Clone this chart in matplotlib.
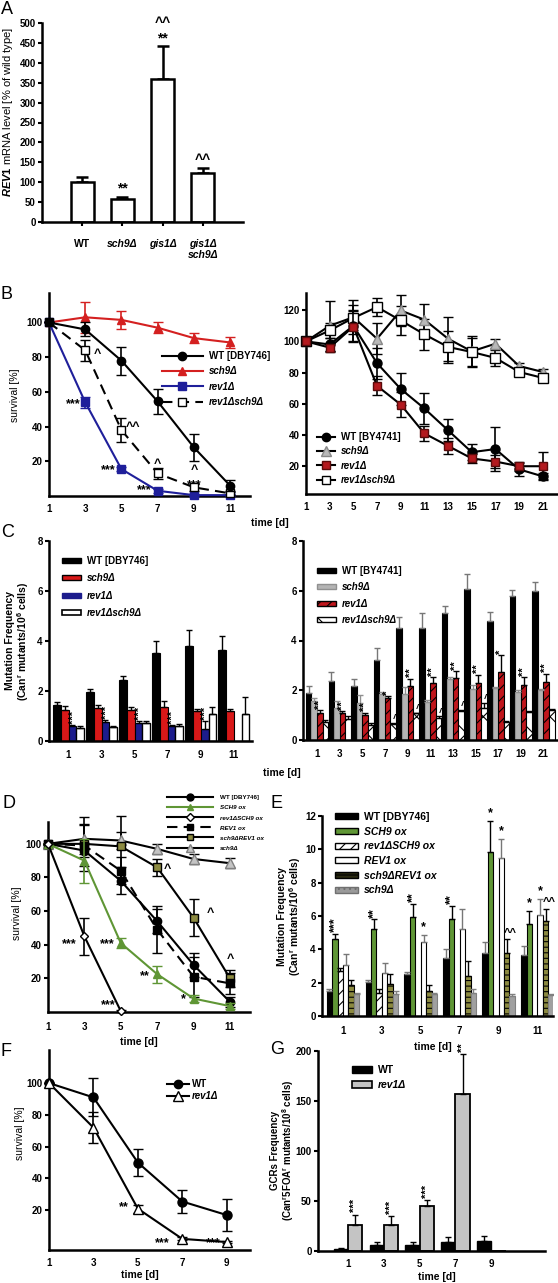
import numpy as np
import matplotlib
matplotlib.use("Agg")
import matplotlib.pyplot as plt
from matplotlib.lines import Line2D
from matplotlib.patches import Patch

plt.rcParams['font.family'] = ['Liberation Sans', 'DejaVu Sans']
plt.rcParams['font.weight'] = 'bold'
plt.rcParams['mathtext.fontset'] = 'custom'
plt.rcParams['mathtext.rm'] = 'Liberation Sans:bold'
plt.rcParams['mathtext.bf'] = 'Liberation Sans:bold'
plt.rcParams['mathtext.it'] = 'Liberation Sans:italic'
plt.rcParams['mathtext.default'] = 'bf'
plt.rcParams['hatch.linewidth'] = 0.8

# ---------------- data ----------------
# A
genotypes_A = ['WT', 'sch9Δ', 'gis1Δ', 'gis1Δ\nsch9Δ']
rev1_mrna = [100, 58, 360, 122]
rev1_mrna_err = [13, 4, 83, 13]

# B left
days_B = [1, 3, 5, 7, 9, 11]
bL_wt = [100, 96, 78, 54.5, 28, 6]
bL_wt_err = [0, 4, 8, 7, 8, 3]
bL_sch9 = [100, 103, 101.5, 97, 91, 88.5]
bL_sch9_err = [0, 9, 5, 3, 3, 3]
bL_rev1 = [100, 54, 15.5, 3, 0.5, 0.5]
bL_rev1_err = [0, 3, 1, 1, 0.5, 0.5]
bL_rs = [100, 84, 38, 13, 5, 1.5]
bL_rs_err = [0, 6, 7, 3, 2, 1]

# B right
days_BR = [1, 3, 5, 7, 9, 11, 13, 15, 17, 19, 21]
bR_wt = [100, 98, 110, 86, 69.5, 57, 43, 29, 31, 18, 13.5]
bR_wt_err = [0, 4, 10, 10, 10, 10, 7, 5, 14, 4, 2]
bR_sch9 = [100, 110, 115.5, 101.7, 119.8, 113.9, 101.7, 93.6, 98.5, 84.2, 80.4]
bR_sch9_err = [0, 16, 11, 10, 10, 10, 14, 10, 3, 2, 2]
bR_rev1 = [100, 96, 109.5, 71.5, 59.5, 41, 33, 25, 23, 20, 20]
bR_rev1_err = [0, 3, 10, 6, 8, 5, 5, 3, 4, 3, 9]
bR_rs = [100, 107, 115, 122, 113.4, 104.5, 96.4, 93.2, 89.4, 80.4, 76.6]
bR_rs_err = [0, 5, 8, 6, 9, 10, 10, 9, 5, 2, 2]

# C left
days_C = [1, 3, 5, 7, 9, 11]
cL_wt = [1.45, 1.97, 2.44, 3.53, 3.8, 3.64]
cL_wt_err = [0.13, 0.1, 0.16, 0.47, 0.64, 0.56]
cL_sch9 = [1.24, 1.32, 1.24, 1.35, 1.2, 1.2]
cL_sch9_err = [0.16, 0.13, 0.13, 0.25, 0.1, 0.07]
cL_rev1 = [0.6, 0.75, 0.72, 0.6, 0.5, np.nan]
cL_rev1_err = [0.05, 0.08, 0.08, 0.05, 0.3, 0]
cL_rs = [0.53, 0.57, 0.72, 0.6, 1.08, 1.08]
cL_rs_err = [0.08, 0.05, 0.08, 0.08, 0.27, 0.67]

# C right
days_CR = [1, 3, 5, 7, 9, 11, 13, 15, 17, 19, 21]
cR_wt = [1.89, 2.37, 2.16, 3.2, 4.5, 4.5, 5.1, 6.07, 4.8, 5.77, 5.97]
cR_wt_err = [0.3, 0.36, 0.28, 0.49, 0.43, 0.6, 0.27, 0.62, 0.33, 0.28, 0.4]
cR_sch9 = [1.57, 1.29, 1.5, 1.85, 1.85, 1.53, 2.45, 2.07, 2.1, 1.93, 2.0]
cR_sch9_err = [0.13, 0.26, 0.3, 0.07, 0.3, 0.07, 0.1, 0.13, 0.05, 0.07, 0.05]
cR_rev1 = [1.07, 1.1, 1.0, 1.67, 2.16, 2.3, 2.5, 2.3, 2.73, 2.23, 2.33]
cR_rev1_err = [0.13, 0.05, 0.1, 0.1, 0.31, 0.23, 0.27, 0.33, 0.67, 0.3, 0.34]
cR_rs = [0.73, 0.83, 0.6, 0.63, 1.07, 0.9, 1.17, 1.27, 0.73, 1.13, 1.2]
cR_rs_err = [0.07, 0.12, 0.1, 0.07, 0.03, 0.05, 0.03, 0.23, 0.03, 0.03, 0.03]
cR_rev1_stars = ['**', '**', '**', '*', '**', '**', '**', '**', '*', '**', '**']
cR_rs_hats = ['', '', '', '^', '^', '^', '^', '^', '', '', '']

# D
days_D = [1, 3, 5, 7, 9, 11]
d_wt = [100, 96, 78, 54, 28, 6]
d_wt_err = [0, 4, 8, 7, 7, 3]
d_sch9ox = [100, 90, 41, 22.5, 8, 3.5]
d_sch9ox_err = [0, 13, 3, 5, 2, 2]
days_D_short = [1, 3, 5]
d_rev1sch9ox = [100, 45, 0.5]
d_rev1sch9ox_err = [0, 11, 0.5]
d_rev1ox = [100, 99, 84, 49, 21, 17]
d_rev1ox_err = [0, 12, 8, 14, 12, 6]
d_sch9rev1ox = [100, 100, 98.5, 86, 56, 20]
d_sch9rev1ox_err = [0, 16, 18, 5, 11, 5]
d_sch9 = [100, 103, 102, 97, 91, 88.5]
d_sch9_err = [0, 9, 5, 3, 3, 3]

# E
days_E = [1, 3, 5, 7, 9, 11]
e_wt = [1.5, 2.05, 2.5, 3.5, 3.8, 3.65]
e_wt_err = [0.15, 0.1, 0.12, 0.55, 0.65, 0.55]
e_sch9ox = [4.6, 5.2, 5.95, 5.85, 9.85, 5.55]
e_sch9ox_err = [0.35, 0.6, 0.8, 0.75, 1.85, 0.75]
e_rev1sch9ox = [2.7, 1.4, np.nan, np.nan, np.nan, np.nan]
e_rev1sch9ox_err = [0.2, 0.2, 0, 0, 0, 0]
e_rev1ox = [3.05, 2.6, 4.45, 5.2, 9.5, 6.05]
e_rev1ox_err = [0.7, 0.6, 0.4, 1.2, 1.15, 0.95]
e_sch9rev1ox = [1.85, 1.95, 1.5, 2.4, 3.8, 5.7]
e_sch9rev1ox_err = [0.3, 0.6, 0.35, 0.9, 0.8, 0.75]
e_sch9 = [1.3, 1.35, 1.3, 1.4, 1.2, 1.25]
e_sch9_err = [0.1, 0.15, 0.1, 0.2, 0.1, 0.05]

# F
days_F = [1, 3, 5, 7, 9]
f_wt = [100, 91, 50, 25.5, 17]
f_wt_err = [0, 12, 8.5, 7, 10]
f_rev1 = [100, 72, 21, 2, 0]
f_rev1_err = [0, 10, 2.5, 1, 0.5]

# G
days_G = [1, 3, 5, 7, 9]
g_wt = [2, 6, 6.5, 9.5, 10]
g_wt_err = [1, 3, 2.5, 4.5, 5]
g_rev1 = [26.5, 26.5, 45.5, 157, np.nan]
g_rev1_err = [10, 8.5, 5.5, 40, 0]
g_stars = ['***', '***', '***', '**', '']

# ---------------- figure ----------------
W, H = 558, 1283
fig = plt.figure(figsize=(W / 100, H / 100), dpi=100)


def add_ax(x0, x1, ytop, ybot):
    return fig.add_axes([x0 / W, 1 - ybot / H, (x1 - x0) / W, (ybot - ytop) / H])


def style(ax, xpad=5.5):
    for s in ('top', 'right'):
        ax.spines[s].set_visible(False)
    for s in ('left', 'bottom'):
        ax.spines[s].set_linewidth(1.8)
    ax.tick_params(axis='y', direction='out', length=3, width=1.5, labelsize=7, pad=1.5)
    ax.tick_params(axis='x', length=0, labelsize=7, pad=xpad)


def ftext(px, py, s, **kw):
    fig.text(px / W, 1 - py / H, s, **kw)


def line(ax, x, y, e, color='black', marker='o', mfc=None, mec=None, ls='-',
         ms=6, ecolor=None, z=3):
    ax.errorbar(x, y, yerr=e, color=color, ls=ls, lw=1.5, marker=marker, ms=ms,
                mfc=mfc if mfc else color, mec=mec if mec else color, mew=1,
                ecolor=ecolor if ecolor else color, elinewidth=1.2, capsize=3.5,
                capthick=1.2, zorder=z, clip_on=False)


def bars(ax, x, vals, errs, off, w, fc, ec='black', hatch=None, ecol='black', lw=0.8):
    xs = np.array(x, float) + off
    v = np.array(vals, float)
    ax.bar(xs, np.nan_to_num(v), w, color=fc, edgecolor=ec, hatch=hatch, lw=lw, zorder=2)
    m = ~np.isnan(v)
    ax.errorbar(xs[m], v[m], yerr=[np.zeros(m.sum()), np.array(errs, float)[m]],
                fmt='none', ecolor=ecol, elinewidth=1, capsize=2.5, capthick=1, zorder=3)
    return xs


def panel_letter(px, py, s):
    ftext(px, py, s, fontsize=13, fontweight='normal', ha='left', va='center')


def legend(ax, handles, labels, px, py, fs=7, hl=2.5, ls=0.35, italic=(), hh=0.7, tp=0.6):
    leg = ax.legend(handles, labels, loc='upper left', bbox_to_anchor=(px / W, 1 - py / H),
                    bbox_transform=fig.transFigure, frameon=False, fontsize=fs,
                    handlelength=hl, labelspacing=ls, borderpad=0, borderaxespad=0,
                    handletextpad=tp, handleheight=hh)
    for i, t in enumerate(leg.get_texts()):
        if i in italic:
            t.set_fontstyle('italic')
    return leg


# ---------- A ----------
ax = add_ax(42, 243, 23, 222)
style(ax)
xa = np.arange(len(genotypes_A))
ax.bar(xa, rev1_mrna, 0.58, color='white', edgecolor='black', lw=1.8, zorder=2)
ax.errorbar(xa, rev1_mrna, yerr=[np.zeros(4), rev1_mrna_err], fmt='none', ecolor='black',
            elinewidth=1.8, capsize=4, capthick=1.8, zorder=1)
ax.set_xlim(-1, 4)
ax.set_ylim(0, 500)
ax.set_yticks(np.arange(0, 501, 50))
ax.set_xticks(xa)
ax.set_xticklabels(genotypes_A)
ax.tick_params(axis='x', length=3, width=1.5, direction='out', pad=9, labelsize=7.5)
for i, t in enumerate(ax.get_xticklabels()):
    if i > 0:
        t.set_fontstyle('italic')
ax.text(1, 66, '**', ha='center', va='bottom', fontsize=10)
ax.text(2, 443, '**', ha='center', va='bottom', fontsize=10)
ax.text(2, 482, '^^', ha='center', va='bottom', fontsize=10)
ax.text(3, 138, '^^', ha='center', va='bottom', fontsize=10)
ftext(8, 112, r'$\mathit{REV1}$ mRNA level [% of wild type]', rotation=90, fontsize=8,
      fontweight='normal', ha='center', va='center')
panel_letter(1, 10, 'A')

# ---------- B left ----------
ax = add_ax(49, 250, 293, 496)
style(ax, xpad=6)
line(ax, days_B, bL_sch9, bL_sch9_err, color='#d42020', marker='^', ms=6)
line(ax, days_B, bL_rev1, bL_rev1_err, color='#1f1f9a', marker='s', ms=5.5)
line(ax, days_B, bL_rs, bL_rs_err, color='black', marker='s', mfc='white', ls=(0, (5, 3)), ms=6)
line(ax, days_B, bL_wt, bL_wt_err, color='black', marker='o', ms=6, z=4)
ax.set_xlim(1, 12.1)
ax.set_ylim(0, 117)
ax.set_yticks([20, 40, 60, 80, 100])
ax.set_xticks(days_B)
ax.text(3.45, 82, '^', fontsize=9, ha='left', va='center')
ax.text(2.75, 53, '***', fontsize=9, ha='right', va='center')
ax.text(5.25, 40, '^^', fontsize=9, ha='left', va='center')
ax.text(4.65, 15, '***', fontsize=9, ha='right', va='center')
ax.text(7, 18.5, '^', fontsize=9, ha='center', va='center')
ax.text(6.65, 3.5, '***', fontsize=9, ha='right', va='center')
ax.text(9, 15, '^', fontsize=9, ha='center', va='center')
ax.text(9, 6.5, '***', fontsize=9, ha='center', va='center')
hB = [Line2D([], [], color='black', marker='o', ms=6, lw=1.5),
      Line2D([], [], color='#d42020', marker='^', ms=6, lw=1.5),
      Line2D([], [], color='#1f1f9a', marker='s', ms=5.5, lw=1.5),
      Line2D([], [], color='black', marker='s', mfc='white', ms=6, lw=1.5, ls=(0, (5, 3)))]
legend(ax, hB, ['WT [DBY746]', 'sch9Δ', 'rev1Δ', 'rev1Δsch9Δ'], 162, 351, fs=7, hl=4.2,
       ls=0.55, italic=(1, 2, 3))
ftext(15, 395, 'survival [%]', rotation=90, fontsize=7.5, fontweight='normal', ha='center', va='center')
panel_letter(1, 294, 'B')

# ---------- B right ----------
ax = add_ax(306, 557, 293, 494)
style(ax, xpad=6)
line(ax, days_BR, bR_sch9, bR_sch9_err, color='black', marker='^', mfc='#b8b8b8', mec='#888888', ms=6.5)
line(ax, days_BR, bR_rs, bR_rs_err, color='black', marker='s', mfc='white', ms=6.5)
line(ax, days_BR, bR_wt, bR_wt_err, color='black', marker='o', ms=6.5)
line(ax, days_BR, bR_rev1, bR_rev1_err, color='black', marker='s', mfc='#b3191e', mec='#5a0a0a', ms=5.5, z=4)
ax.set_xlim(1, 22.2)
ax.set_ylim(2.2, 131)
ax.set_yticks([20, 40, 60, 80, 100, 120])
ax.set_xticks(days_BR)
hBR = [Line2D([], [], color='black', marker='o', ms=6, lw=1.5),
       Line2D([], [], color='black', marker='^', mfc='#b8b8b8', mec='#888888', ms=6.5, lw=1.5),
       Line2D([], [], color='black', marker='s', mfc='#b3191e', mec='#5a0a0a', ms=5.5, lw=1.5),
       Line2D([], [], color='black', marker='s', mfc='white', ms=6, lw=1.5)]
legend(ax, hBR, ['WT [BY4741]', 'sch9Δ', 'rev1Δ', 'rev1Δsch9Δ'], 317, 432, fs=7, hl=1.9,
       ls=0.45, italic=(1, 2, 3))
ftext(270, 523, 'time [d]', fontsize=7.5, ha='center', va='center')

# ---------- C left ----------
ax = add_ax(49, 252, 541, 741)
style(ax, xpad=6.5)
wC = 0.47
bars(ax, days_C, cL_wt, cL_wt_err, -1.5 * wC, wC, 'black')
bars(ax, days_C, cL_sch9, cL_sch9_err, -0.5 * wC, wC, '#d81818')
xr = bars(ax, days_C, cL_rev1, cL_rev1_err, 0.5 * wC, wC, '#1c1c8c')
bars(ax, days_C, cL_rs, cL_rs_err, 1.5 * wC, wC, 'white', lw=1)
for i in range(5):
    ax.text(xr[i] + 0.1, cL_rev1[i] + cL_rev1_err[i] + 0.05, '***', rotation=90,
            ha='center', va='bottom', fontsize=8)
ax.set_xlim(-0.18, 12.1)
ax.set_ylim(0, 8)
ax.set_yticks([0, 2, 4, 6, 8])
ax.set_xticks(days_C)
hC = [Patch(fc='black', ec='black'), Patch(fc='#d81818', ec='black'),
      Patch(fc='#1c1c8c', ec='#1c1c8c'), Patch(fc='white', ec='black', lw=1.2)]
legend(ax, hC, ['WT [DBY746]', 'sch9Δ', 'rev1Δ', 'rev1Δsch9Δ'], 62, 556, fs=7, hl=2.0,
       hh=0.45, ls=0.75, italic=(1, 2, 3))
ftext(18, 641, 'Mutation Frequency\n(Can$^{r}$ mutants/10$^{6}$ cells)', rotation=90, fontsize=7.5,
      ha='center', va='center', linespacing=1.1)
panel_letter(1, 533, 'C')

# ---------- C right ----------
ax = add_ax(303, 557, 541, 740)
style(ax, xpad=6.5)
wR = 0.49
bars(ax, days_CR, cR_wt, cR_wt_err, -1.5 * wR, wR, 'black', ecol='#777777')
bars(ax, days_CR, cR_sch9, cR_sch9_err, -0.5 * wR, wR, '#b4b4b4', ec='#909090', ecol='#909090')
xr = bars(ax, days_CR, cR_rev1, cR_rev1_err, 0.5 * wR, wR, '#c0161c', hatch='///')
xw = bars(ax, days_CR, cR_rs, cR_rs_err, 1.5 * wR, wR, 'white', hatch='x')
for i in range(len(days_CR)):
    ax.text(xr[i], cR_rev1[i] + cR_rev1_err[i] + 0.05, cR_rev1_stars[i], rotation=90,
            ha='center', va='bottom', fontsize=8)
    if cR_rs_hats[i]:
        ax.text(xw[i] + 0.25, cR_rs[i] + cR_rs_err[i] + 0.15, cR_rs_hats[i],
                ha='center', va='center', fontsize=7)
ax.set_xlim(-0.24, 22.2)
ax.set_ylim(0, 8)
ax.set_yticks([0, 2, 4, 6, 8])
ax.set_xticks(days_CR)
hCR = [Patch(fc='black', ec='black'), Patch(fc='#b4b4b4', ec='#909090'),
       Patch(fc='#c0161c', ec='black', hatch='///'), Patch(fc='white', ec='black', hatch='x')]
legend(ax, hCR, ['WT [BY4741]', 'sch9Δ', 'rev1Δ', 'rev1Δsch9Δ'], 317, 566, fs=7, hl=2.0,
       hh=0.45, ls=0.65, italic=(1, 2, 3))
ftext(282, 773, 'time [d]', fontsize=7.5, ha='center', va='center')

# ---------- D ----------
ax = add_ax(48, 250, 822, 1012)
style(ax, xpad=7)
green = '#5f9635'
olive = '#8c8a40'
line(ax, days_D, d_sch9, d_sch9_err, color='black', marker='^', mfc='#c4c4c4', mec='#808080', ms=6.5)
line(ax, days_D, d_sch9rev1ox, d_sch9rev1ox_err, color='black', marker='s', mfc=olive, mec='black', ms=5.5)
line(ax, days_D, d_rev1ox, d_rev1ox_err, color='black', marker='s', ls=(0, (5, 3)), ms=6)
line(ax, days_D, d_wt, d_wt_err, color='black', marker='o', ms=6)
line(ax, days_D, d_sch9ox, d_sch9ox_err, color=green, marker='^', ms=5.5, z=4)
line(ax, days_D_short, d_rev1sch9ox, d_rev1sch9ox_err, color='black', marker='D', mfc='white', ms=4.5, z=4)
ax.set_xlim(1, 12.1)
ax.set_ylim(0, 113)
ax.set_yticks([20, 40, 60, 80, 100])
ax.set_xticks(days_D)
for (x, y, s, ha) in [(2.15, 40.4, '***', 'center'), (4.24, 40.4, '***', 'center'),
                      (7.55, 85, '^', 'center'), (9.9, 59, '^', 'center'),
                      (11.0, 31.5, '^', 'center'), (6.33, 21.4, '**', 'center'),
                      (8.42, 7.7, '*', 'center'), (4.3, 4.0, '***', 'center')]:
    ax.text(x, y, s, fontsize=9, ha=ha, va='center')
hD = [Line2D([], [], color='black', marker='o', ms=5, lw=1.5),
      Line2D([], [], color=green, marker='^', ms=5, lw=1.5),
      Line2D([], [], color='black', marker='D', mfc='white', ms=4, lw=1.5),
      Line2D([], [], color='black', marker='s', ms=5, lw=1.5, ls=(0, (5, 3))),
      Line2D([], [], color='black', marker='s', mfc=olive, ms=5, lw=1.5),
      Line2D([], [], color='black', marker='^', mfc='#c4c4c4', mec='#808080', ms=5.5, lw=1.5)]
legend(ax, hD, ['WT [DBY746]', 'SCH9 ox', 'rev1ΔSCH9 ox', 'REV1 ox', 'sch9ΔREV1 ox', 'sch9Δ'],
       167, 795, fs=4.5, hl=7.3, ls=0.75, italic=(1, 2, 3, 4, 5), tp=1.2)
ftext(17, 913, 'survival [%]', rotation=90, fontsize=7.5, fontweight='normal', ha='center', va='center')
ftext(139, 1042, 'time [d]', fontsize=7.5, ha='center', va='center')
panel_letter(2, 804, 'D')

# ---------- E ----------
ax = add_ax(322, 553, 816, 1016)
style(ax, xpad=7.5)
wE = 0.28
offs = (np.arange(6) - 2.5) * wE
bars(ax, days_E, e_wt, e_wt_err, offs[0], wE, 'black', ecol='#777777')
xg = bars(ax, days_E, e_sch9ox, e_sch9ox_err, offs[1], wE, green)
bars(ax, days_E, e_rev1sch9ox, e_rev1sch9ox_err, offs[2], wE, 'white', hatch='///')
xw = bars(ax, days_E, e_rev1ox, e_rev1ox_err, offs[3], wE, 'white', ecol='#777777')
xo = bars(ax, days_E, e_sch9rev1ox, e_sch9rev1ox_err, offs[4], wE, olive, hatch='---')
bars(ax, days_E, e_sch9, e_sch9_err, offs[5], wE, '#a0a0a0', ec='#808080', ecol='#808080')
e_g_st = ['***', '**', '**', '**', '*', '*']
for i in range(6):
    rot = 90 if len(e_g_st[i]) > 1 else 0
    ax.text(xg[i], e_sch9ox[i] + e_sch9ox_err[i] + 0.1, e_g_st[i], rotation=rot,
            ha='center', va='bottom', fontsize=9)
for i in (2, 4, 5):
    ax.text(xw[i], e_rev1ox[i] + e_rev1ox_err[i] + 0.1, '*', ha='center', va='bottom', fontsize=9)
for i in (4, 5):
    ax.text(xo[i] + 0.2, e_sch9rev1ox[i] + e_sch9rev1ox_err[i] + 0.1, '^^', ha='center',
            va='bottom', fontsize=8)
ax.set_xlim(-0.08, 11.8)
ax.set_ylim(0, 12)
ax.set_yticks(np.arange(0, 13, 2))
ax.set_xticks(days_E)
hE = [Patch(fc='black', ec='black'), Patch(fc=green, ec='black'),
      Patch(fc='white', ec='black', hatch='///'), Patch(fc='white', ec='black'),
      Patch(fc='#2a2a10', ec='black', hatch='---'), Patch(fc='#9a9a9a', ec='#707070', hatch='...')]
legend(ax, hE, ['WT [DBY746]', 'SCH9 ox', 'rev1ΔSCH9 ox', 'REV1 ox', 'sch9ΔREV1 ox', 'sch9Δ'],
       335, 812, fs=7.5, hl=2.2, hh=0.5, ls=0.45, italic=(1, 2, 3, 4, 5))
ftext(290, 916, 'Mutation Frequency\n(Can$^{r}$ mutants/10$^{6}$ cells)', rotation=90, fontsize=7.5,
      ha='center', va='center', linespacing=1.1)
ftext(433, 1047, 'time [d]', fontsize=7.5, ha='center', va='center')
panel_letter(270, 804, 'E')

# ---------- F ----------
ax = add_ax(49, 250, 1050, 1250)
style(ax, xpad=5.5)
line(ax, days_F, f_wt, f_wt_err, color='black', marker='o', ms=6.5)
line(ax, days_F, f_rev1, f_rev1_err, color='black', marker='^', mfc='white', ms=7, z=4)
ax.set_xlim(1, 10.05)
ax.set_ylim(-5, 120.8)
ax.set_yticks([20, 40, 60, 80, 100])
ax.set_xticks(days_F)
ax.text(4.35, 22, '**', fontsize=9, ha='center', va='center')
ax.text(6.1, -1, '***', fontsize=9, ha='center', va='center')
ax.text(8.4, -1, '***', fontsize=9, ha='center', va='center')
hF = [Line2D([], [], color='black', marker='o', ms=6, lw=1.5),
      Line2D([], [], color='black', marker='^', mfc='white', ms=6.5, lw=1.5)]
legend(ax, hF, ['WT', 'rev1Δ'], 167, 1079, fs=7, hl=2.3, ls=0.25, italic=(1,), tp=0.3)
ftext(20, 1133, 'survival [%]', rotation=90, fontsize=7.5, fontweight='normal', ha='center', va='center')
ftext(140, 1275, 'time [d]', fontsize=7.5, ha='center', va='center')
panel_letter(1, 1051, 'F')

# ---------- G ----------
ax = add_ax(318, 545, 1051, 1251)
style(ax, xpad=6)
wG = 0.8
bars(ax, days_G, g_wt, g_wt_err, -wG / 2, wG, 'black', lw=1)
xr = bars(ax, days_G, g_rev1, g_rev1_err, wG / 2, wG, '#c4c4c4', lw=1.3)
for i in range(5):
    if g_stars[i]:
        ax.text(xr[i], g_rev1[i] + g_rev1_err[i] + 2, g_stars[i], rotation=90,
                ha='center', va='bottom', fontsize=8)
ax.set_xlim(-0.68, 12.0)
ax.set_ylim(0, 200)
ax.set_yticks([0, 50, 100, 150, 200])
ax.set_xticks(days_G)
hG = [Patch(fc='black', ec='black'), Patch(fc='#c4c4c4', ec='black', lw=1.2)]
legend(ax, hG, ['WT', 'rev1Δ'], 352, 1065, fs=7.5, hl=1.9, hh=0.6, ls=0.5, italic=(1,))
ftext(283, 1150, 'GCRs Frequency\n(Can$^{r}$5FOA$^{r}$ mutants/10$^{8}$ cells)', rotation=90,
      fontsize=7, ha='center', va='center', linespacing=1.1)
ftext(437, 1277, 'time [d]', fontsize=7.5, ha='center', va='center')
panel_letter(270, 1050, 'G')

fig.savefig('out.png', dpi=100)
